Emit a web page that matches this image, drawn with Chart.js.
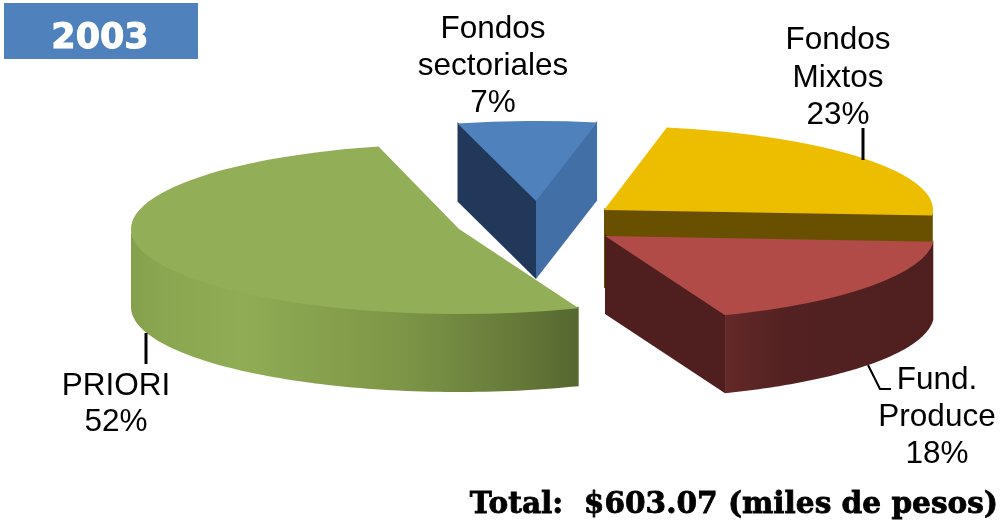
<!DOCTYPE html>
<html>
<head>
<meta charset="utf-8">
<title>2003</title>
<script src="https://cdn.jsdelivr.net/npm/chart.js@4/dist/chart.umd.min.js"></script>
<style>
  html, body { margin: 0; padding: 0; background: #fff; }
  canvas { display: block; }
</style>
</head>
<body>
<canvas id="pie3d" width="1000" height="523"></canvas>
<script>
// Chart data
const badgeText = "2003";
const totalText = "Total:  $603.07 (miles de pesos)";
const categories = ["Fondos sectoriales", "Fondos Mixtos", "Fund. Produce", "PRIORI"];
const shares = [7, 23, 18, 52];
const topColors = ["#4f81bd", "#edbe00", "#b14b48", "#92ae56"];

// Each slice sits on its own spot, this is how the exploded 3D look is faked
const centerX = [536, 604, 605, 459];
const centerY = [201, 210, 236, 229];
const radiusX = [320, 329, 329, 328];
const radiusY = [80, 84, 85, 85];
const depth = 78;
const startWall = ["#22385a", null, null, null];
const endWall = ["#426fa6", "#685000", "#4f1f1f", null];
const rimStops = [
  null,
  [[0, "#685000"], [1, "#685000"]],
  [[0, "#642828"], [0.3, "#532121"], [1, "#4f1f1f"]],
  [[0, "#84a04c"], [0.06, "#8aa650"], [0.25, "#90ac54"], [0.6, "#7d9647"], [0.85, "#677b39"], [1, "#566630"]],
];
const drawOrder = [3, 0, 1, 2];

// Label text and where it goes
const labelFont = '31.5px "Liberation Sans"';
const labels = [
  { x: 493, ys: [38, 75, 112], lines: ["Fondos", "sectoriales", shares[0] + "%"] },
  { x: 838, ys: [49, 87, 124], lines: ["Fondos", "Mixtos", shares[1] + "%"] },
  { x: 937, ys: [389, 426, 463], lines: ["Fund.", "Produce", shares[2] + "%"] },
  { x: 116, ys: [395, 431], lines: ["PRIORI", shares[3] + "%"] },
];
const leaders = [
  { width: 3, pts: [[146, 333], [146, 364]] },
  { width: 3, pts: [[863, 128], [863, 160]] },
  { width: 2, pts: [[868, 365], [880, 389], [891, 389]] },
];

function polygon(ctx, pts, fill) {
  ctx.beginPath();
  pts.forEach(function (p, i) {
    if (i === 0) ctx.moveTo(p[0], p[1]);
    else ctx.lineTo(p[0], p[1]);
  });
  ctx.closePath();
  ctx.fillStyle = fill;
  ctx.fill();
}

function drawSlice(ctx, arc, i) {
  const cx = centerX[i], cy = centerY[i], rx = radiusX[i], ry = radiusY[i];
  const at = function (a) {
    return [cx + rx * Math.cos(a), cy + ry * Math.sin(a)];
  };
  const start = arc.startAngle, end = arc.endAngle;

  // outer wall, only the part facing the viewer
  const lo = Math.max(start, 0), hi = Math.min(end, Math.PI);
  if (rimStops[i] && lo < hi) {
    const upper = [], lower = [];
    for (let s = 0; s <= 80; s++) {
      const p = at(lo + (hi - lo) * s / 80);
      // tucked a bit under the top face so no pale seam shows
      upper.push([p[0], p[1] - 1.5]);
      lower.unshift([p[0], p[1] + depth]);
    }
    const xs = upper.map(function (p) { return p[0]; });
    const grad = ctx.createLinearGradient(Math.min.apply(null, xs), 0, Math.max.apply(null, xs), 0);
    rimStops[i].forEach(function (st) { grad.addColorStop(st[0], st[1]); });
    polygon(ctx, upper.concat(lower), grad);
  }

  // cut faces
  [[start, startWall[i]], [end, endWall[i]]].forEach(function (w) {
    if (!w[1]) return;
    const p = at(w[0]);
    polygon(ctx, [[cx, cy - 1.5], [p[0], p[1] - 1.5], [p[0], p[1] + depth], [cx, cy + depth]], w[1]);
  });

  // top face is the library's own arc, squashed into place
  const k = rx / arc.outerRadius;
  ctx.save();
  ctx.translate(cx, cy);
  ctx.scale(k, ry / arc.outerRadius);
  ctx.translate(-arc.x, -arc.y);
  arc.draw(ctx);
  ctx.restore();
}

const pie3dPlugin = {
  id: "pie3d",
  beforeDatasetsDraw(chart) {
    const arcs = chart.getDatasetMeta(0).data;
    drawOrder.forEach(function (i) {
      drawSlice(chart.ctx, arcs[i], i);
    });
    return false;
  },
  afterDraw(chart) {
    const ctx = chart.ctx;
    ctx.save();

    // 2003 box, stroked as well since the original is heavier than any bold here
    ctx.fillStyle = "#4f81bd";
    ctx.fillRect(4, 3, 194, 56);
    ctx.fillStyle = "#fff";
    ctx.strokeStyle = "#fff";
    ctx.lineWidth = 1;
    ctx.font = 'bold 35px "DejaVu Sans"';
    ctx.textAlign = "center";
    ctx.fillText(badgeText, 100, 48);
    ctx.strokeText(badgeText, 100, 48);

    // leader lines
    ctx.strokeStyle = "#000";
    leaders.forEach(function (line) {
      ctx.lineWidth = line.width;
      ctx.beginPath();
      line.pts.forEach(function (p, i) {
        if (i === 0) ctx.moveTo(p[0], p[1]);
        else ctx.lineTo(p[0], p[1]);
      });
      ctx.stroke();
    });

    // slice labels
    ctx.fillStyle = "#000";
    ctx.font = labelFont;
    labels.forEach(function (l) {
      l.lines.forEach(function (t, i) {
        ctx.fillText(t, l.x, l.ys[i]);
      });
    });

    // total
    ctx.font = 'bold 29.6px "DejaVu Serif"';
    ctx.textAlign = "right";
    ctx.lineWidth = 0.8;
    ctx.fillText(totalText, 998, 513);
    ctx.strokeText(totalText, 998, 513);
    ctx.restore();
  },
};

new Chart(document.getElementById("pie3d"), {
  type: "pie",
  data: {
    labels: categories,
    datasets: [
      {
        data: shares,
        backgroundColor: topColors,
        borderWidth: 0,
      },
    ],
  },
  options: {
    responsive: false,
    animation: false,
    rotation: -14.2,
    plugins: {
      legend: { display: false },
      tooltip: { enabled: false },
    },
  },
  plugins: [pie3dPlugin],
});
</script>
</body>
</html>
